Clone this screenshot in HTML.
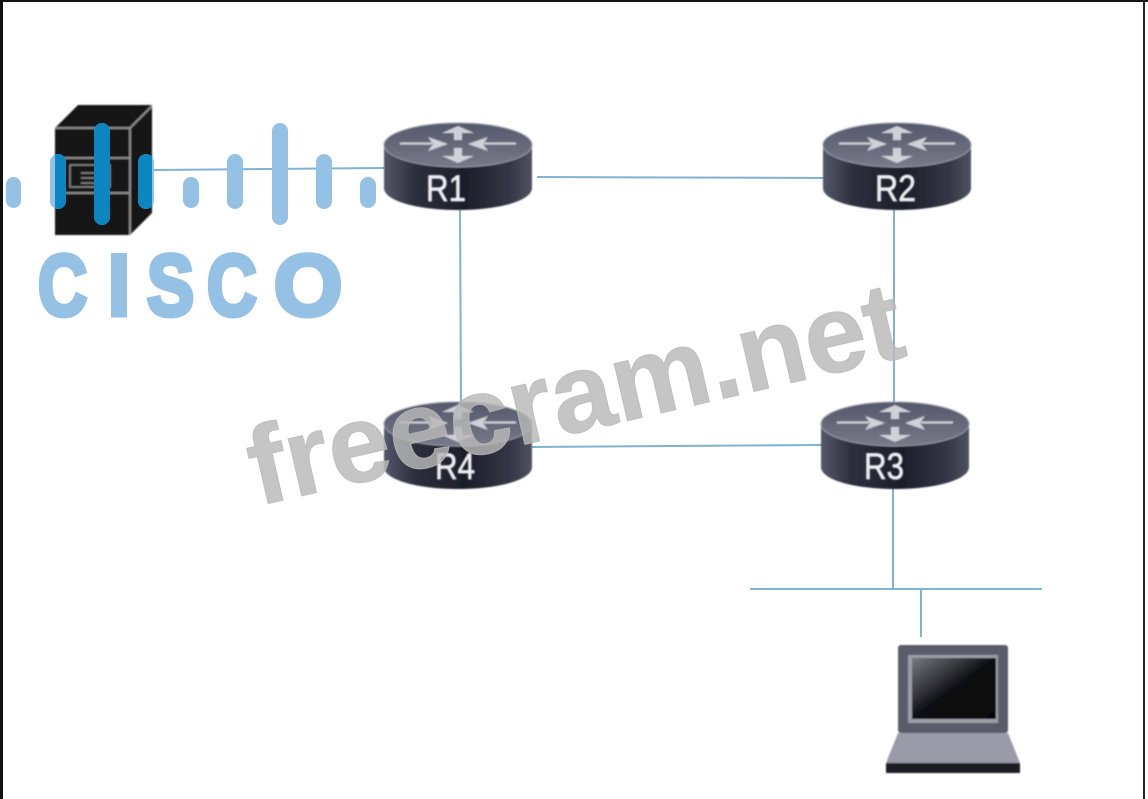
<!DOCTYPE html>
<html><head><meta charset="utf-8"><style>
html,body{margin:0;padding:0;background:#fff;width:1148px;height:799px;overflow:hidden}
svg{display:block}
text{font-family:"Liberation Sans",sans-serif}
</style></head><body>
<svg width="1148" height="799" viewBox="0 0 1148 799" xmlns="http://www.w3.org/2000/svg">
<defs>
<linearGradient id="body" x1="0" x2="1" y1="0" y2="0">
<stop offset="0" stop-color="#55586a"/><stop offset=".2" stop-color="#2d2f3e"/><stop offset=".55" stop-color="#1d1e2a"/><stop offset=".85" stop-color="#343646"/><stop offset="1" stop-color="#50525f"/>
</linearGradient>
<linearGradient id="top" x1="0" x2="0" y1="0" y2="1">
<stop offset="0" stop-color="#55576a"/><stop offset="1" stop-color="#777989"/>
</linearGradient>
<linearGradient id="scr" x1="0" x2="1" y1="0" y2="1">
<stop offset="0" stop-color="#77777f"/><stop offset=".3" stop-color="#3b3b42"/><stop offset=".5" stop-color="#0e0e12"/><stop offset="1" stop-color="#050507"/>
</linearGradient>
<filter id="soft"><feGaussianBlur stdDeviation="0.9"/></filter>
<g id="router">
<path d="M-74 22 V65 C-74 78 -40 87 0 87 C40 87 74 78 74 65 V22 Z" fill="url(#body)"/>
<ellipse cx="0" cy="22" rx="74" ry="22" fill="url(#top)" stroke="#9a9ca8" stroke-width="1"/>
<g fill="#dcdde4" stroke="#dcdde4" opacity=".9">
<path d="M-58 20.500 H-26" stroke-width="2" fill="none"/>
<path d="M58 20.500 H26" stroke-width="2" fill="none"/>
<path d="M-30 14 L-10 21 L-30 28 L-25 21 Z" stroke="none"/>
<path d="M30 14 L10 21 L30 28 L25 21 Z" stroke="none"/>
<path d="M0 3 L-16 10 L-4 10 V17 H4 V10 L16 10 Z" stroke="none"/>
<path d="M0 40 L-16 33 L-4 33 V25 H4 V33 L16 33 Z" stroke="none"/>
</g>
</g>
<clipPath id="srv"><path d="M55 128 L78 105 H152 V213 L130 235 H55 Z"/></clipPath>
</defs>
<rect width="1148" height="799" fill="#fff"/>
<rect x="0" y="0" width="3" height="799" fill="#111"/>
<rect x="0" y="0" width="1148" height="2" fill="#111"/>
<rect x="1143" y="0" width="2" height="799" fill="#222"/>

<!-- links -->
<g stroke="#80b3d0" stroke-width="2" fill="none">
<path d="M154 170 L384 168"/>
<path d="M537 177 L825 178"/>
<path d="M460 210 L461 405"/>
<path d="M894 210 V405"/>
<path d="M532 447 L822 445"/>
<path d="M893 488 V590"/>
<path d="M750 589 H1042"/>
<path d="M921 589 V637"/>
</g>

<!-- server -->
<g filter="url(#soft)">
<path d="M55 128 L78 105 H152 V213 L130 235 H55 Z" fill="#141414"/>
<g fill="none" stroke="#8b8b8b" stroke-width="2">
<path d="M55 128 H130 V235"/>
<path d="M130 128 L152 106"/>
<path d="M55 158 H130 M55 193 H130"/>
<rect x="70" y="165" width="40" height="22" stroke-width="1.500"/>
<path d="M81 173 H101 M81 178 H101 M81 183 H101" stroke-width="1.500"/>
</g>
</g>

<!-- routers -->
<g filter="url(#soft)">
<use href="#router" x="458" y="123"/>
<use href="#router" x="897" y="123"/>
<use href="#router" x="458" y="402"/>
<use href="#router" x="895" y="402"/>
</g>
<g fill="#eeeef2" stroke="#eeeef2" stroke-width=".7" font-size="37" filter="url(#soft)">
<text x="426" y="201" textLength="40" lengthAdjust="spacingAndGlyphs">R1</text>
<text x="875" y="201" textLength="41" lengthAdjust="spacingAndGlyphs">R2</text>
<text x="435" y="479" textLength="40" lengthAdjust="spacingAndGlyphs">R4</text>
<text x="864" y="479" textLength="40" lengthAdjust="spacingAndGlyphs">R3</text>
</g>

<!-- laptop -->
<g filter="url(#soft)">
<rect x="898" y="645" width="110" height="88" rx="3" fill="#5a5b6b"/>
<rect x="908" y="655" width="90" height="68" fill="#9c9ca6"/>
<rect x="912" y="658" width="84" height="61" fill="url(#scr)"/>
<path d="M898 733 H1008 L1020 763 H886 Z" fill="#9a9aa8"/>
<rect x="886" y="763" width="134" height="10" fill="#1c1c24"/>
</g>

<!-- cisco logo -->
<g fill="#94c1e4">
<rect x="6" y="177" width="15" height="31" rx="7.500"/>
<rect x="50" y="154" width="16" height="55" rx="8"/>
<rect x="94" y="123" width="16" height="102" rx="8"/>
<rect x="138" y="154" width="16" height="55" rx="8"/>
<rect x="183" y="177" width="16" height="31" rx="8"/>
<rect x="227" y="154" width="16" height="55" rx="8"/>
<rect x="272" y="123" width="16" height="102" rx="8"/>
<rect x="316" y="154" width="16" height="55" rx="8"/>
<rect x="360" y="177" width="16" height="31" rx="8"/>
</g>
<g fill="#0c86c0" clip-path="url(#srv)">
<rect x="50" y="154" width="16" height="55" rx="8"/>
<rect x="94" y="123" width="16" height="102" rx="8"/>
<rect x="138" y="154" width="16" height="55" rx="8"/>
</g>
<g fill="#94c1e4" stroke="#94c1e4" stroke-width="5" font-weight="700" font-size="86">
<text transform="translate(38 315) scale(.79 1)">C</text>
<text transform="translate(108 315) scale(.92 1)">I</text>
<text transform="translate(147 315) scale(.82 1)">S</text>
<text transform="translate(207 315) scale(.8 1)">C</text>
<text transform="translate(274 315) scale(1.02 1)">O</text>
</g>

<!-- watermark -->
<text transform="translate(258 506) rotate(-13)" font-size="111" font-weight="700" fill="#b8b8b8" fill-opacity=".82" stroke="#b8b8b8" stroke-opacity=".82" stroke-width="1" textLength="668" lengthAdjust="spacing">freecram.net</text>
</svg>
</body></html>
